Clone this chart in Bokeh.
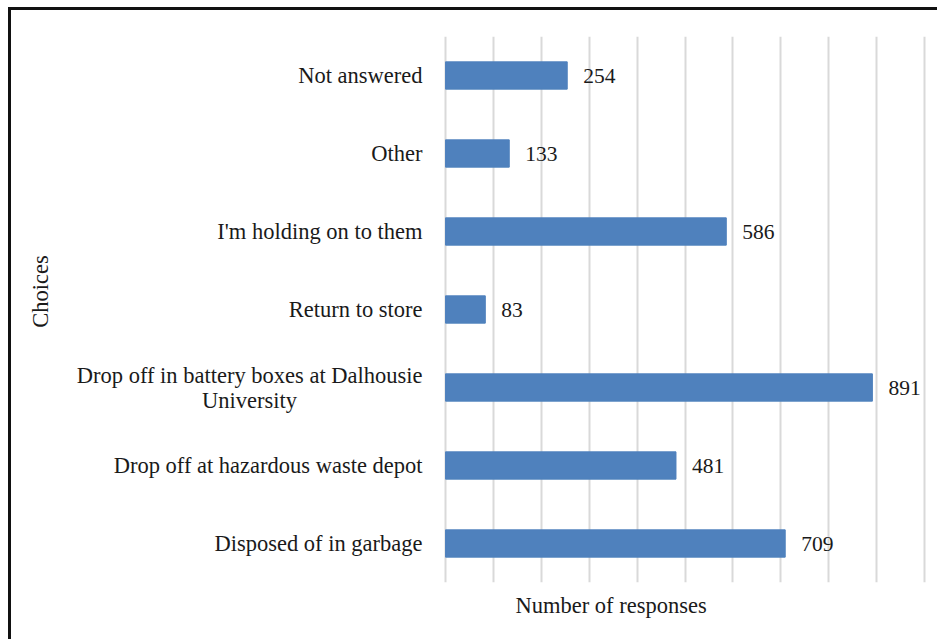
from bokeh.plotting import figure
from bokeh.models import ColumnDataSource, FactorRange, Range1d, Title, FixedTicker
from bokeh.core.properties import value
from bokeh.embed import file_html
from bokeh.resources import INLINE
import math

# Data (bottom to top)
choices = [
    "Disposed of in garbage",
    "Drop off at hazardous waste depot",
    "Drop off in battery boxes at Dalhousie\nUniversity",
    "Return to store",
    "I'm holding on to them",
    "Other",
    "Not answered",
]
responses = [709, 481, 891, 83, 586, 133, 254]
x_ticks = [0, 100, 200, 300, 400, 500, 600, 700, 800, 900, 1000]

FONT = "Liberation Serif"
TXT = "#1a1a1a"

src = ColumnDataSource(dict(
    choice=choices,
    n=responses,
    lab=[str(v) for v in responses],
))

# the plot area also holds the category labels (left part of the x range)
p = figure(
    width=929, height=632,
    y_range=FactorRange(factors=choices, range_padding=0),
    x_range=Range1d(-906, 1006),
    output_backend="svg", toolbar_location=None,
    x_axis_location=None, y_axis_location=None,
    min_border_left=0, min_border_right=13, min_border_top=26, min_border_bottom=60,
    styles={"border-left": "3px solid #111111", "border-top": "3px solid #111111",
            "margin-left": "8px", "margin-top": "7px"},
)
p.outline_line_color = None
p.background_fill_color = "white"
p.border_fill_color = "white"

# grid
p.ygrid.grid_line_color = None
p.xgrid.ticker = FixedTicker(ticks=x_ticks)
p.xgrid.grid_line_color = "#d9d9d9"
p.xgrid.grid_line_width = 2

p.hbar(y="choice", right="n", left=0, height=0.35, source=src,
       fill_color="#4f81bd", line_color="#4f81bd")

# value labels
p.text(x="n", y="choice", text="lab", source=src, x_offset=16,
       text_baseline="middle", text_align="left",
       text_font=value(FONT), text_font_size="21.5px", text_color=TXT)

# category labels
single = [c for c in choices if "\n" not in c]
p.text(x=[0] * len(single), y=single, text=single, x_offset=-23,
       text_baseline="middle", text_align="right",
       text_font=value(FONT), text_font_size="22.5px", text_color=TXT)
for c in choices:
    if "\n" in c:
        first, second = c.split("\n")
        p.text(x=[0], y=[c], text=[first], x_offset=-23, y_offset=-12,
               text_baseline="middle", text_align="right",
               text_font=value(FONT), text_font_size="22.5px", text_color=TXT)
        p.text(x=[0], y=[c], text=[second], x_offset=-196, y_offset=13,
               text_baseline="middle", text_align="center",
               text_font=value(FONT), text_font_size="22.5px", text_color=TXT)

# vertical axis title
p.text(x=[0], y=[choices[len(choices) // 2]], text=["Choices"],
       x_offset=-405, y_offset=-18, angle=math.pi / 2,
       text_baseline="middle", text_align="center",
       text_font=value(FONT), text_font_size="22.5px", text_color=TXT)

t = Title(text="Number of responses", align="left", offset=504, standoff=16,
          text_font=FONT, text_font_size="22.5px", text_font_style="normal",
          text_color=TXT)
p.add_layout(t, "below")

open("out.html", "w").write(file_html(p, INLINE))
